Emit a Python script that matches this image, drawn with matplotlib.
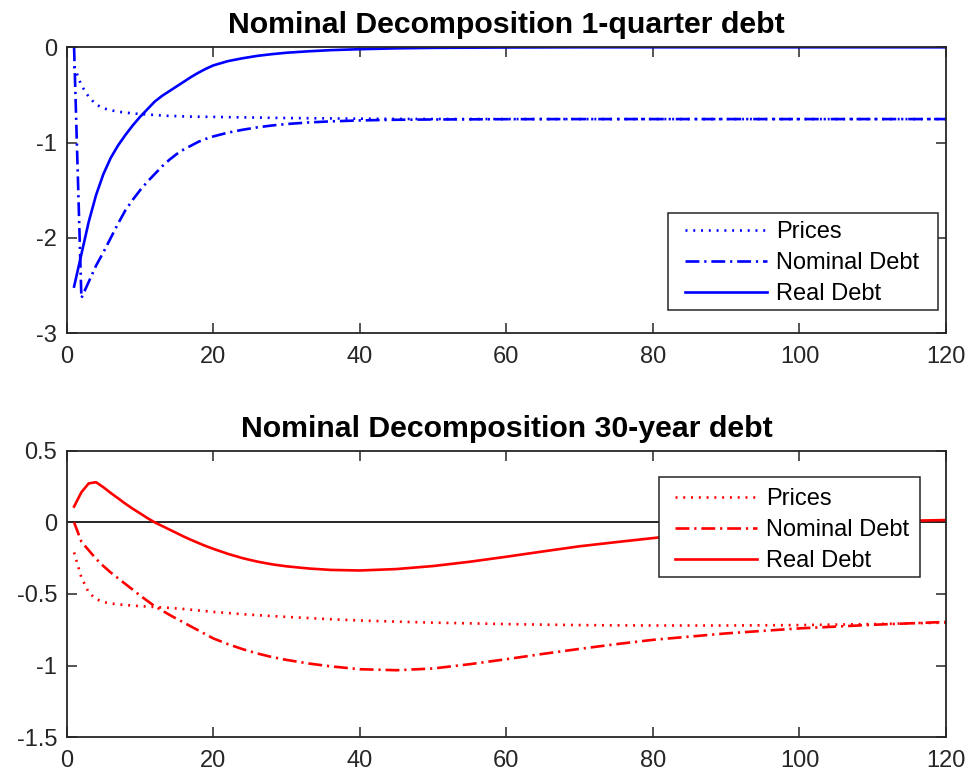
import matplotlib
matplotlib.use('Agg')
import matplotlib.pyplot as plt
from matplotlib.patches import Rectangle

plt.rcParams['font.family'] = ['Liberation Sans', 'DejaVu Sans']
plt.rcParams['axes.unicode_minus'] = False
plt.rcParams['lines.scale_dashes'] = False

# --- values ---
# 1-quarter debt (top panel)
x_short = [1, 2, 3, 4, 5, 6, 7, 8, 9, 10, 11, 12, 13, 14, 15, 16, 17, 18,
           19, 20, 22, 24, 26, 28, 30, 33, 36, 40, 45, 50, 60, 70, 80, 100,
           120]
short_prices = [-0.20, -0.40, -0.52, -0.60, -0.64, -0.66, -0.675, -0.685,
                -0.693, -0.70, -0.705, -0.71, -0.715, -0.72, -0.722, -0.725,
                -0.727, -0.728, -0.729, -0.73, -0.733, -0.735, -0.737, -0.74,
                -0.742, -0.744, -0.746, -0.749, -0.751, -0.752, -0.753,
                -0.753, -0.753, -0.753, -0.753]
short_nominal = [0.0, -2.63, -2.46, -2.29, -2.15, -2.00, -1.85, -1.71,
                 -1.60, -1.50, -1.41, -1.33, -1.25, -1.18, -1.12, -1.07,
                 -1.03, -0.99, -0.96, -0.935, -0.895, -0.865, -0.84, -0.82,
                 -0.805, -0.788, -0.777, -0.767, -0.76, -0.757, -0.754,
                 -0.753, -0.753, -0.753, -0.753]
short_real = [-2.51, -2.17, -1.83, -1.55, -1.33, -1.16, -1.03, -0.92,
              -0.82, -0.73, -0.65, -0.57, -0.51, -0.46, -0.41, -0.36,
              -0.31, -0.265, -0.225, -0.19, -0.145, -0.115, -0.09, -0.072,
              -0.057, -0.042, -0.03, -0.02, -0.011, -0.006, -0.002, 0.0,
              0.0, 0.0, 0.0]

# 30-year debt (bottom panel)
x_long = [1, 2, 3, 4, 5, 6, 7, 8, 9, 10, 11, 12, 13, 14, 15, 16, 17, 18,
          19, 20, 22, 24, 26, 28, 30, 33, 36, 40, 45, 50, 55, 60, 65, 70,
          75, 80, 90, 100, 110, 120]
long_prices = [-0.21, -0.385, -0.49, -0.535, -0.556, -0.566, -0.572, -0.577,
               -0.581, -0.585, -0.588, -0.591, -0.594, -0.597, -0.601, -0.605,
               -0.61, -0.615, -0.62, -0.625, -0.633, -0.641, -0.648, -0.654,
               -0.66, -0.668, -0.676, -0.685, -0.693, -0.70, -0.705, -0.71,
               -0.714, -0.717, -0.719, -0.72, -0.72, -0.717, -0.71, -0.70]
long_nominal = [0.0, -0.135, -0.195, -0.255, -0.305, -0.35, -0.39, -0.43,
                -0.47, -0.51, -0.548, -0.585, -0.615, -0.645, -0.673, -0.70,
                -0.728, -0.755, -0.783, -0.81, -0.85, -0.885, -0.915, -0.94,
                -0.96, -0.985, -1.005, -1.025, -1.032, -1.02, -0.99, -0.955,
                -0.918, -0.883, -0.85, -0.82, -0.775, -0.74, -0.715, -0.695]
long_real = [0.11, 0.21, 0.272, 0.28, 0.245, 0.205, 0.168, 0.13,
             0.095, 0.063, 0.03, 0.0, -0.025, -0.05, -0.075, -0.10,
             -0.123, -0.145, -0.166, -0.185, -0.22, -0.25, -0.274, -0.293,
             -0.307, -0.322, -0.332, -0.336, -0.326, -0.305, -0.275, -0.24,
             -0.203, -0.167, -0.138, -0.11, -0.055, -0.015, 0.006, 0.016]

labels = ['Prices', 'Nominal Debt', 'Real Debt']
x_ticks = [0, 20, 40, 60, 80, 100, 120]
top_yticks = [0, -1, -2, -3]
top_yticklabels = ['0', '-1', '-2', '-3']
bot_yticks = [0.5, 0, -0.5, -1, -1.5]
bot_yticklabels = ['0.5', '0', '-0.5', '-1', '-1.5']

AX_COLOR = '#262626'
DOTTED = (0, (1.4, 4.2))
DASHDOT = (0, (10, 3.5, 1.6, 3.5))
LW = 1.9


def style_axes(ax, yticks, yticklabels, ylim):
    ax.set_xlim(0, 120)
    ax.set_ylim(*ylim)
    ax.set_xticks(x_ticks)
    ax.set_xticklabels([str(t) for t in x_ticks])
    ax.set_yticks(yticks)
    ax.set_yticklabels(yticklabels)
    ax.tick_params(direction='in', length=7, width=1.1, top=True, right=True,
                   labelsize=17, colors=AX_COLOR, pad=7)
    ax.tick_params(axis='x', pad=9)
    for sp in ax.spines.values():
        sp.set_linewidth(1.3)
        sp.set_color(AX_COLOR)


def draw_panel(ax, x, prices, nominal, real, color):
    ax.plot(x, prices, color=color, lw=LW, linestyle=DOTTED, label=labels[0])
    ax.plot(x, nominal, color=color, lw=LW, linestyle=DASHDOT, label=labels[1])
    ax.plot(x, real, color=color, lw=LW, linestyle='-', label=labels[2])


def boxed_legend(ax, anchor, box):
    # MATLAB-style box: wider side padding than matplotlib's frame allows
    x0, y0, x1, y1 = box
    ax.add_patch(Rectangle((x0, y0), x1 - x0, y1 - y0, transform=ax.transAxes,
                           facecolor='white', edgecolor=AX_COLOR, lw=1.1,
                           zorder=4))
    leg = ax.legend(loc='center left', bbox_to_anchor=anchor, fontsize=17,
                    handlelength=3.47, handletextpad=0.4, labelspacing=0.38,
                    borderpad=0, borderaxespad=0, frameon=False)
    leg.set_zorder(5)


fig = plt.figure(figsize=(9.73, 7.83), dpi=100)
ax_top = fig.add_axes([0.0686, 0.5743, 0.9037, 0.3653])
ax_bot = fig.add_axes([0.0686, 0.0584, 0.9037, 0.366])

draw_panel(ax_top, x_short, short_prices, short_nominal, short_real, '#0000ff')
style_axes(ax_top, top_yticks, top_yticklabels, (-3, 0))
ax_top.set_title('Nominal Decomposition 1-quarter debt', fontsize=21.8,
                 fontweight='bold', pad=10)
boxed_legend(ax_top, (0.7032, 0.2448), (0.6838, 0.0815, 0.9909, 0.4217))

ax_bot.axhline(0, color='black', lw=1.2, zorder=1)
draw_panel(ax_bot, x_long, long_prices, long_nominal, long_real, '#ff0000')
style_axes(ax_bot, bot_yticks, bot_yticklabels, (-1.5, 0.5))
ax_bot.set_title('Nominal Decomposition 30-year debt', fontsize=21.8,
                 fontweight='bold', pad=10)
boxed_legend(ax_bot, (0.6918, 0.7233), (0.6736, 0.5604, 0.9704, 0.9072))

fig.savefig('out.png', dpi=100, facecolor='white')
